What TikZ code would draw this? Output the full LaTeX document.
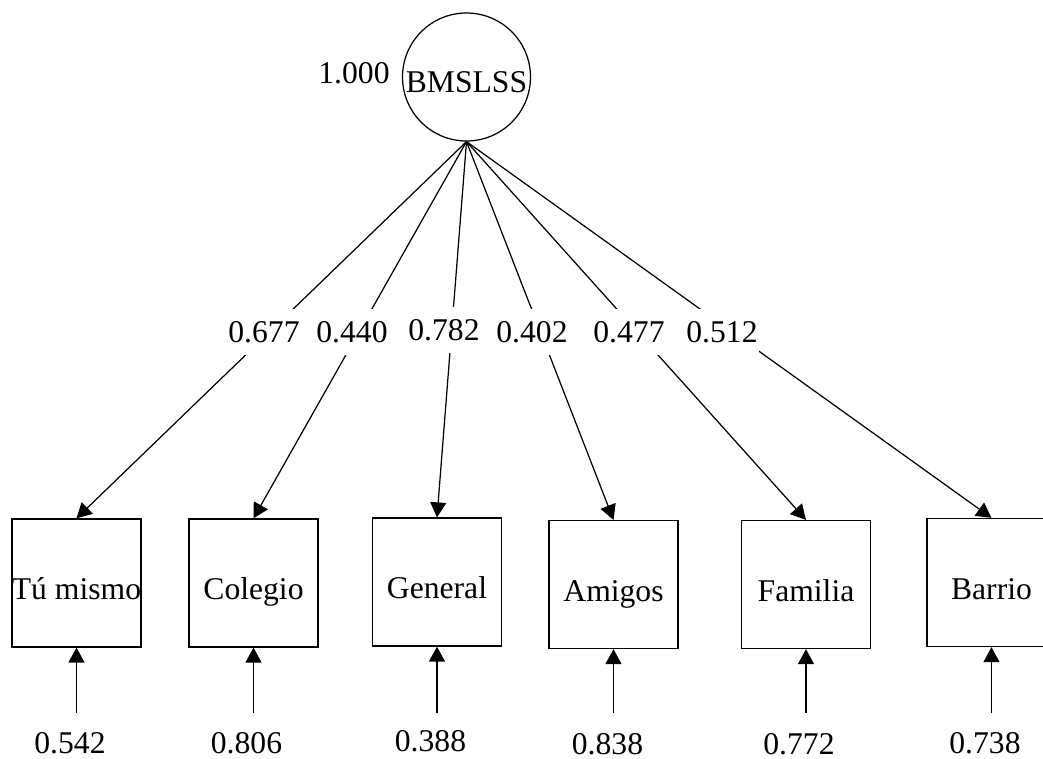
\documentclass[tikz,border=0pt]{standalone}
\usepackage{fontspec}
\setmainfont{Liberation Serif}
\usetikzlibrary{arrows.meta}

\begin{document}
\begin{tikzpicture}[font=\fontsize{18}{21}\selectfont, line width=0.7pt,
  latent/.style={circle, draw, inner sep=0pt, minimum size=2.56cm,
    text height=0.64cm, text depth=0pt},
  obsbox/.style={rectangle, draw, inner sep=0pt, minimum width=2.58cm,
    minimum height=2.56cm, text height=0.68cm, text depth=0pt},
  loadlbl/.style={fill=white, inner xsep=1pt, minimum height=0.92cm},
  arr/.style={-{Triangle[length=0.3cm,width=0.32cm]}}]
% 1 px of the original = 0.02 cm
\useasboundingbox (0,0) rectangle (20.86,15.18);

% Rows (y)
\def\yBox{3.52}
\def\yErr{0.92}
\def\yVal{0.32}
\def\yLoad{8.54}

% Latent factor
\node[latent] (bms) at (9.33,13.64) {BMSLSS};
\node (var) at (7.08,13.72) {1.000};

% Observed items
\node[obsbox] (tu)  at (1.53,\yBox)  {Tú mismo};
\node[obsbox] (col) at (5.07,\yBox)  {Colegio};
\node[obsbox] (gen) at (8.74,3.54)   {General};
\node[obsbox] (ami) at (12.27,3.49)  {Amigos};
\node[obsbox] (fam) at (16.12,3.49)  {Familia};
\node[obsbox] (bar) at (19.83,3.53)  {Barrio};

% Loadings
\foreach \b in {tu,col,gen,ami,fam,bar}
  \draw[arr] (bms.south) -- (\b.north);
\node[loadlbl] (l1) at (5.28,\yLoad)  {0.677};
\node[loadlbl] (l2) at (7.04,\yLoad)  {0.440};
\node[loadlbl] (l3) at (8.88,8.58)    {0.782};
\node[loadlbl] (l4) at (10.64,\yLoad) {0.402};
\node[loadlbl] (l5) at (12.58,\yLoad) {0.477};
\node[loadlbl] (l6) at (14.44,\yLoad) {0.512};

% Error terms
\foreach \b/\x in {tu/1.53, col/5.07, gen/8.74, ami/12.27, fam/16.12, bar/19.83} {
  \coordinate (e\b) at (\x,\yErr);
  \draw[arr] (e\b) -- (\b.south);
}
\node (v1) at (1.40,\yVal)  {0.542};
\node (v2) at (4.93,\yVal)  {0.806};
\node (v3) at (8.61,0.35)   {0.388};
\node (v4) at (12.15,0.30)  {0.838};
\node (v5) at (15.98,0.30)  {0.772};
\node (v6) at (19.70,\yVal) {0.738};
\end{tikzpicture}
\end{document}
